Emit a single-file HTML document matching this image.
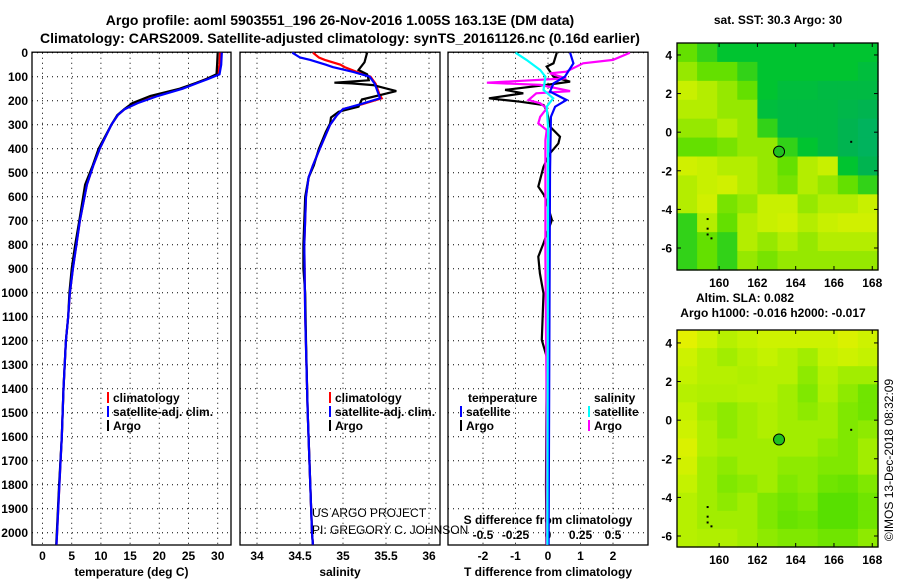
<!DOCTYPE html>
<html><head><meta charset="utf-8"><style>
html,body{margin:0;padding:0;background:#fff;}
svg{display:block;font-family:"Liberation Sans",sans-serif;}
.b{font-weight:bold;font-size:12px;}
.t{font-weight:bold;font-size:14px;}
</style></head><body>
<svg id="c" width="900" height="580" viewBox="0 0 900 580"></svg>
<script>
// ---- data ----
const depthTicks=[0,100,200,300,400,500,600,700,800,900,1000,1100,1200,1300,1400,1500,1600,1700,1800,1900,2000];
const tTicks=[0,5,10,15,20,25,30];
const sTicks=[34,34.5,35,35.5,36];
const dTTicks=[-2,-1,0,1,2];
const dSTicks=[-0.5,-0.25,0,0.25,0.5];
const dSTickLabels=["-0.5","-0.25","0","0.25","0.5"];
const tDepth=[0,50,90,110,126,150,180,210,235,260,300,400,470,550,700,800,900,1000,1100,1200,1400,1600,1800,2000,2050];
const tClim=[30.4,30.3,30.0,28.0,26.4,23.8,19.6,16.1,14.1,12.9,11.8,9.8,8.7,7.6,6.4,5.8,5.2,4.7,4.4,4.0,3.6,3.3,2.9,2.5,2.4];
const tSat=[30.7,30.6,30.3,28.3,26.6,24.0,19.8,16.3,14.1,12.9,11.8,9.8,8.7,7.6,6.4,5.8,5.2,4.7,4.4,4.0,3.6,3.3,2.9,2.5,2.4];
const tArgo=[30.0,29.9,29.8,28.0,26.3,23.5,18.5,15.4,14.0,12.8,11.8,9.6,8.6,7.3,6.3,5.6,5.0,4.6,4.4,4.0,3.6,3.3,2.85,2.45,2.35];
const sDepth=[0,20,30,50,60,80,100,130,170,190,215,235,260,300,400,470,520,600,800,1100,1500,2000,2050];
const sSat=[34.41,34.5,34.62,34.8,34.88,35.12,35.31,35.37,35.41,35.43,35.2,35.0,34.93,34.85,34.73,34.65,34.6,34.57,34.55,34.56,34.59,34.64,34.65];
const sClim=[34.65,34.72,34.79,34.97,35.02,35.16,35.32,35.38,35.42,35.45,35.22,35.0,34.93,34.85,34.73,34.65,34.6,34.57,34.55,34.56,34.59,34.64,34.65];
const sArgoDepth=[0,40,72,90,115,125,128,135,160,175,195,225,246,270,295,330,400,470,520,600,700,800,900,1000,1200,1500,2000,2050];
const sArgo=[35.28,35.25,35.18,35.28,35.3,34.9,35.1,35.35,35.62,35.45,35.22,35.18,34.95,34.86,34.85,34.8,34.72,34.66,34.6,34.56,34.55,34.54,34.54,34.56,34.57,34.59,34.64,34.65];
const dTSatDepth=[0,44,100,128,162,197,225,267,503,2050];
const dTSat=[0.68,0.78,0.52,0.17,0.06,0.57,0.22,0.09,0.06,0.02];
const dTArgoDepth=[0,44,58,100,121,134,155,169,190,204,218,239,308,350,378,419,475,558,600,697,794,850,919,1003,1197,1267,1500,1800,2050];
const dTArgo=[0.27,0.17,-0.04,0.17,0.68,-0.04,-1.32,-0.76,-1.82,-0.86,-0.14,-0.04,0.06,0.37,0.32,0.06,-0.14,-0.30,-0.09,0.12,-0.14,-0.30,-0.25,-0.14,-0.19,-0.04,-0.05,-0.06,-0.05];
const dSSatDepth=[0,30,72,100,155,190,225,308,503,2050];
const dSSat=[-0.25,-0.165,-0.06,-0.02,-0.035,0.04,-0.01,0.0,0.0,-0.005];
const dSArgoDepth=[0,30,44,79,86,107,125,134,160,169,197,211,232,267,294,322,364,503,850,1500,2050];
const dSArgo=[0.63,0.50,0.27,0.14,0.015,0.14,-0.47,-0.06,0.17,-0.09,-0.15,-0.06,-0.01,-0.06,-0.075,-0.01,-0.02,-0.02,-0.02,-0.01,-0.01];
const lonTicks=[160,162,164,166,168];
const latTicks=[4,2,0,-2,-4,-6];
const sstGrid=[
[2,2.5,3,3,3,3,3,3,3,3],
[1.5,2,2,2.5,3,3,3,3,3,3.2],
[1,1.2,1.5,2,3,3.2,3.2,3.3,3.3,3.3],
[1.2,1.2,1.5,1.5,3.2,3.3,3.3,3.3,3.4,3.5],
[1.5,1.5,1.2,1.5,2.5,3.3,3.3,3.3,3.5,3.6],
[2,2,1.8,1.5,1.5,2.5,3,3.3,3.5,3.6],
[0.8,1,1.2,1.2,1.5,2,1.2,1,3,3.5],
[1.2,1,0.8,1.2,1.5,1.8,1.2,1.5,2,2.5],
[1.2,0.8,1.8,1.5,1,1,1.5,1.2,1.2,1],
[2.5,1.2,2,1.2,1,0.8,1.2,1,0.8,0.8],
[2.5,2,2.5,1.2,1.5,1.2,1.5,1.2,1.2,1.2],
[2.5,2,2.5,1.5,1.8,1.5,1.5,1.5,1.5,1.5]];
const slaGrid=[
[0.3,0.8,1.2,1,0.8,0.8,0.8,0.8,0.5,0.8],
[0.8,1.2,1.5,1.2,1,1.2,1.5,1,0.8,1],
[1,1.2,1.2,1.3,1.2,1.2,1.8,1.2,1.5,1.5],
[1.2,1.3,1.3,1.2,1.2,1.5,2,1.3,1.8,2.2],
[1,1.5,1.8,1.5,1.3,1.5,1.8,1.5,2,2.2],
[0.8,1.3,1.8,1.5,1.3,1.5,1.5,1.5,2,1.8],
[0.5,1.3,1.5,1.5,1.5,1.5,1.5,1.8,2,1.5],
[0.7,1.5,1.8,1.5,1.5,1.8,1.8,2,2,1.5],
[1,1.5,2,1.8,1.5,2,1.8,2.2,2.3,2],
[1.2,1.5,1.8,1.5,2,2.2,2,2.5,2.5,2.2],
[1.2,1.5,1.5,1.5,2,2.3,2.2,2.5,2.5,2.2],
[1.2,1.3,1.3,1.5,1.8,2,2,2.2,2.2,1.8]];
const floatLon=163.13, floatLat=-1.005;

// ---- helpers ----
const NS="http://www.w3.org/2000/svg";
const svg=document.getElementById('c');
function mk(tag,attrs,parent){const e=document.createElementNS(NS,tag);for(const k in attrs)e.setAttribute(k,attrs[k]);(parent||svg).appendChild(e);return e;}
function txt(x,y,s,cls,anchor,parent){const e=mk('text',{x:x,y:y,'class':cls,'text-anchor':anchor||'start'},parent);e.textContent=s;return e;}
const Y0=52.7, YK=0.24, PB=545;
function yD(d){return Y0+d*YK;}

function panel(name,left,right,xf,ticks,labels,title){
  const g=mk('g',{});
  
  
  depthTicks.forEach(d=>{const l=mk('line',{x1:left,x2:right,y1:yD(d),y2:yD(d),stroke:'#000','stroke-dasharray':'1,4','stroke-width':1},g);
    
    });
  ticks.forEach((t,i)=>{const x=xf(t);const l=mk('line',{x1:x,x2:x,y1:Y0,y2:PB,stroke:'#000','stroke-dasharray':'1,4'},g);
    
    
    const tl=txt(x,560,labels[i],'b','middle',g);
    
    });
  const r=mk('rect',{x:left,y:Y0-0.5,width:right-left,height:PB-Y0+0.5,fill:'none',stroke:'#000','stroke-width':1.3},g);
  
  
  if(title){const tt=txt((left+right)/2,576,title,'b','middle',g);
    
    }
  return g;
}
function series(g,name,depths,vals,xf,color){
  const p=mk('polyline',{points:depths.map((d,i)=>xf(vals[i]).toFixed(1)+','+yD(d).toFixed(1)).join(' '),fill:'none',stroke:color,'stroke-width':2.2},g);
  
  
}
function legend(g,x,y,color,label,name){
  const l=mk('line',{x1:x,x2:x,y1:y-10,y2:y+1,stroke:color,'stroke-width':2},g);
  
  
  const t=txt(x+5,y,label,'b','start',g);
  
  
}

// titles
let e=txt(340,25,'Argo profile: aoml 5903551_196 26-Nov-2016 1.005S 163.13E (DM data)','t','middle');


e=txt(340,43,'Climatology: CARS2009. Satellite-adjusted climatology: synTS_20161126.nc (0.16d earlier)','t','middle');


// y labels
depthTicks.forEach(d=>{const t=txt(28,yD(d)+4.5,String(d),'b','end');
  
  });

// panel 1 temperature
const xT=v=>42.5+v*5.84;
const g1=panel('temperature-panel',32,231,xT,tTicks,tTicks.map(String),'temperature (deg C)');
series(g1,'temp-climatology-line',tDepth,tClim,xT,'#f00');
series(g1,'temp-argo-line',tDepth,tArgo,xT,'#000');
series(g1,'temp-satellite-line',tDepth,tSat,xT,'#00f');
legend(g1,108,402,'#f00','climatology','legend-climatology');
legend(g1,108,416,'#00f','satellite-adj. clim.','legend-satellite');
legend(g1,108,430,'#000','Argo','legend-argo');

// panel 2 salinity
const xS=v=>257+(v-34)*86;
const g2=panel('salinity-panel',240,440,xS,sTicks,sTicks.map(String),'salinity');
series(g2,'sal-climatology-line',sDepth,sClim,xS,'#f00');
series(g2,'sal-argo-line',sArgoDepth,sArgo,xS,'#000');
series(g2,'sal-satellite-line',sDepth,sSat,xS,'#00f');
legend(g2,330,402,'#f00','climatology','legend-climatology');
legend(g2,330,416,'#00f','satellite-adj. clim.','legend-satellite');
legend(g2,330,430,'#000','Argo','legend-argo');
e=mk('text',{x:312,y:517,'font-size':12},g2);e.textContent='US ARGO PROJECT';


e=mk('text',{x:312,y:534,'font-size':12},g2);e.textContent='PI: GREGORY C. JOHNSON';



// panel 3 differences
const xDT=v=>548+v*32.5;
const xDS=v=>548+v*130;
const g3=panel('difference-panel',448,648,xDT,dTTicks,dTTicks.map(String),'T difference from climatology');
dSTicks.forEach((t,i)=>{const tl=txt(xDS(t),539,dSTickLabels[i],'b','middle',g3);
  
  });
e=txt(548,524,'S difference from climatology','b','middle',g3);


series(g3,'t-diff-argo-line',dTArgoDepth,dTArgo,xDT,'#000');
series(g3,'s-diff-argo-line',dSArgoDepth,dSArgo,xDS,'#f0f');
series(g3,'t-diff-satellite-line',dTSatDepth,dTSat,xDT,'#00f');
series(g3,'s-diff-satellite-line',dSSatDepth,dSSat,xDS,'#0ff');
e=txt(468,402,'temperature','b','start',g3);


e=txt(594,402,'salinity','b','start',g3);


legend(g3,461,416,'#00f','satellite','legend-t-satellite');
legend(g3,461,430,'#000','Argo','legend-t-argo');
legend(g3,589,416,'#0ff','satellite','legend-s-satellite');
legend(g3,589,430,'#f0f','Argo','legend-s-argo');

// maps
function lerpC(stops,v){
  for(let i=1;i<stops.length;i++){if(v<=stops[i][0]||i==stops.length-1){const a=stops[i-1],b=stops[i];let f=(v-a[0])/(b[0]-a[0]);f=Math.max(0,Math.min(1,f));
    const c=[0,1,2].map(k=>Math.round(a[1][k]+(b[1][k]-a[1][k])*f));return 'rgb('+c.join(',')+')';}}
}
const sstStops=[[0,[240,240,0]],[1,[200,240,0]],[2,[100,224,0]],[3,[0,196,48]],[3.5,[0,180,80]],[4,[0,176,144]]];
const slaStops=[[0,[240,240,0]],[1,[196,242,0]],[2,[128,232,0]],[3,[48,216,0]]];
function map(name,top,bottom,latTop,latBot,grid,stops,titles){
  const L=677,R=878,lonL=157.8,lonR=168.3;
  const xm=lo=>L+(lo-lonL)/(lonR-lonL)*(R-L);
  const ym=la=>top+(latTop-la)/(latTop-latBot)*(bottom-top);
  const g=mk('g',{});
  
  
  const rows=grid.length,cols=grid[0].length,cw=(R-L)/cols,ch=(bottom-top)/rows;
  grid.forEach((row,i)=>row.forEach((v,j)=>{const c=mk('rect',{x:L+j*cw,y:top+i*ch,width:cw+0.6,height:ch+0.6,fill:lerpC(stops,v)},g);
    
    }));
  mk('rect',{x:L,y:top,width:R-L,height:bottom-top,fill:'none',stroke:'#000','stroke-width':1.3},g);
  lonTicks.forEach(lo=>{const x=xm(lo);mk('line',{x1:x,x2:x,y1:top,y2:top+4,stroke:'#000'},g);mk('line',{x1:x,x2:x,y1:bottom,y2:bottom-4,stroke:'#000'},g);
    const t=txt(x,bottom+17,String(lo),'b','middle',g);
    
    });
  latTicks.forEach(la=>{const y=ym(la);mk('line',{x1:L,x2:L+4,y1:y,y2:y,stroke:'#000'},g);mk('line',{x1:R,x2:R-4,y1:y,y2:y,stroke:'#000'},g);
    const t=txt(672,y+4.5,String(la),'b','end',g);
    
    });
  [[159.4,-4.5],[159.4,-5.0],[159.4,-5.3],[159.6,-5.5],[166.9,-0.5]].forEach(p=>mk('rect',{x:xm(p[0])-1,y:ym(p[1])-1,width:2,height:2,fill:'#000'},g));
  const c=mk('circle',{cx:xm(floatLon),cy:ym(floatLat),r:5.5,fill:'#20c020',stroke:'#000','stroke-width':1},g);
  
  
  titles.forEach((s,i)=>{const t=txt(s[1],s[2],s[0],'b','middle',g);
    
    });
}
map('sst-map',43,270,4.62,-7.14,sstGrid,sstStops,[['sat. SST: 30.3 Argo: 30',778,24]]);
map('sla-map',330,547,4.67,-6.57,slaGrid,slaStops,[['Altim. SLA: 0.082',745,302],['Argo h1000: -0.016 h2000: -0.017',773,317]]);
e=mk('text',{x:0,y:0,'font-size':12,transform:'translate(893,460) rotate(-90)','text-anchor':'middle'});
e.textContent='©IMOS 13-Dec-2018 08:32:09';


</script>
</body></html>
